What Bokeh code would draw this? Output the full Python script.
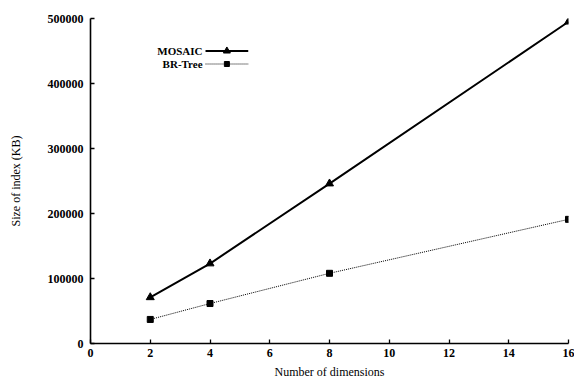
from bokeh.plotting import figure
from bokeh.models import Range1d, FixedTicker, Label, BasicTickFormatter
from bokeh.embed import file_html
from bokeh.resources import INLINE

dims = [2, 4, 8, 16]
mosaic = [71000, 123000, 246000, 495000]
brtree = [37000, 61500, 108000, 191000]
x_ticks = [0, 2, 4, 6, 8, 10, 12, 14, 16]
y_ticks = [0, 100000, 200000, 300000, 400000, 500000]
series_names = ["MOSAIC", "BR-Tree"]

FONT = "Liberation Serif"

p = figure(width=574, height=381, output_backend="svg", toolbar_location=None,
           x_range=Range1d(0, 16), y_range=Range1d(0, 500000))
p.min_border_left = 90
p.min_border_right = 6
p.min_border_top = 18
p.min_border_bottom = 38
p.outline_line_color = None
p.xgrid.visible = False
p.ygrid.visible = False
p.background_fill_color = "white"

for ax in (p.xaxis[0], p.yaxis[0]):
    ax.axis_line_width = 1.6
    ax.axis_line_color = "black"
    ax.major_tick_in = 4
    ax.major_tick_out = 0
    ax.minor_tick_line_color = None
    ax.major_tick_line_color = "black"
    ax.major_tick_line_width = 1.3
    ax.major_label_text_font = FONT
    ax.major_label_text_font_style = "bold"
    ax.major_label_text_font_size = "12px"
    ax.major_label_text_color = "black"
    ax.axis_label_text_font = FONT
    ax.axis_label_text_font_style = "normal"
    ax.axis_label_text_font_size = "12px"
    ax.axis_label_text_color = "black"

p.xaxis.ticker = FixedTicker(ticks=x_ticks)
p.yaxis.ticker = FixedTicker(ticks=y_ticks)
p.yaxis.formatter = BasicTickFormatter(use_scientific=False)
p.xaxis.axis_label = "Number of dimensions"
p.yaxis.axis_label = "Size of index (KB)"
p.xaxis.major_label_standoff = 5
p.xaxis.axis_label_standoff = 5
p.yaxis.major_label_standoff = 7
p.yaxis.axis_label_standoff = 22

p.line(dims, mosaic, line_color="black", line_width=2)
p.scatter(dims, mosaic, marker="triangle", size=8, color="black")
p.line(dims, brtree, line_color="black", line_width=1, line_dash="1 1")
p.scatter(dims, brtree, marker="square", size=6, color="black")

# manual legend (label left of sample, as in reference)
leg_x_text = 3.75
leg_x0, leg_x1 = 3.85, 5.28
leg_y = [450000, 430000]
styles = [dict(line_width=2, line_dash="solid", marker="triangle", size=7),
          dict(line_width=1, line_dash="1 1", marker="square", size=5)]
for name, yy, st in zip(series_names, leg_y, styles):
    p.add_layout(Label(x=leg_x_text, y=yy, text=name, text_font=FONT,
                       text_font_style="bold", text_font_size="11px",
                       text_align="right", text_baseline="middle",
                       text_color="black"))
    p.line([leg_x0, leg_x1], [yy, yy], line_color="black",
           line_width=st["line_width"], line_dash=st["line_dash"])
    p.scatter([(leg_x0 + leg_x1) / 2], [yy], marker=st["marker"],
              size=st["size"], color="black")

open("out.html", "w").write(file_html(p, INLINE))
